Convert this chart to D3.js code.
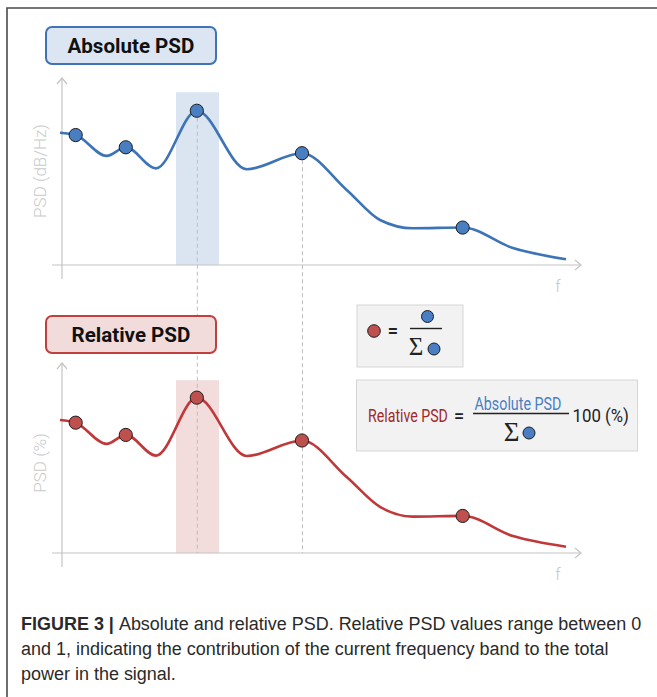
<!DOCTYPE html>
<html>
<head>
<meta charset="utf-8">
<script src="https://cdn.jsdelivr.net/npm/d3@7"></script>
<style>
  html, body { margin: 0; padding: 0; background: #fff; }
  svg { display: block; }
</style>
</head>
<body>
<script>
// frequency knots of the drawn spectrum (arbitrary Hz)
var freq = [0, 1.55, 4.61, 6.5, 9.49, 13.52, 18.45, 23.91, 28.33, 31.62, 34.88, 39.79, 44.76, 50];
// absolute PSD (dB/Hz, arbitrary units)
var absPSD = [7.35, 7.22, 6.06, 6.54, 5.37, 8.57, 5.32, 6.21, 4.17, 2.5, 2.04, 2.08, 0.94, 0.32];
// relative PSD (%, arbitrary units)
var relPSD = [7.39, 7.24, 6.06, 6.56, 5.41, 8.63, 5.39, 6.25, 4.22, 2.56, 2.02, 2.06, 0.94, 0.35];
// which knots get a marker, and which markers get a dashed guide
var markerIdx = [1, 3, 5, 7, 11];
var guideIdx = [5, 7];
// highlighted band
var bandF = [11.46, 15.71];
var bandTop = 9.6;

var captionLines = [
  ["FIGURE 3 | ", "Absolute and relative PSD. Relative PSD values range between 0"],
  ["", "and 1, indicating the contribution of the current frequency band to the total"],
  ["", "power in the signal."]
];

var W = 657, H = 697;
var svg = d3.select("body").append("svg").attr("width", W).attr("height", H);
svg.append("rect").attr("width", W).attr("height", H).attr("fill", "#fff");

// frame
svg.append("path").attr("d", "M7,697 V8 H657").attr("fill", "none")
  .attr("stroke", "#4a4a4a").attr("stroke-width", 1.6);

var x = d3.scaleLinear().domain([0, 50]).range([60, 566]);

var panels = [
  { values: absPSD, base: 265, title: "Absolute PSD", titleW: 127, ylab: "PSD (dB/Hz)",
    line: "#3d73b7", dot: "#4a7ec2", band: "#dbe5f1", boxFill: "#dce6f2", boxStroke: "#3f73b6",
    boxY: 27, axisTop: 78, axisBot: 279, ylabY: 171 },
  { values: relPSD, base: 553, title: "Relative PSD", titleW: 119, ylab: "PSD (%)",
    line: "#c0393a", dot: "#c0504d", band: "#f2dcdc", boxFill: "#f2dcdb", boxStroke: "#c0403e",
    boxY: 316, axisTop: 363, axisBot: 567, ylabY: 463 }
];

panels.forEach(function (p) {
  p.y = d3.scaleLinear().domain([0, 10]).range([p.base, p.base - 180]);
});

// squeeze a text horizontally so it spans w pixels (the reference uses a condensed face)
function squeeze(sel, x0, y0, w) {
  var n = sel.node().getComputedTextLength();
  sel.attr("transform", "translate(" + x0 + "," + y0 + ") scale(" + (w / n) + ",1)");
}

// bands
panels.forEach(function (p) {
  svg.append("rect")
    .attr("x", x(bandF[0])).attr("width", x(bandF[1]) - x(bandF[0]))
    .attr("y", p.y(bandTop)).attr("height", p.y(0) - p.y(bandTop))
    .attr("fill", p.band);
});

// dashed guides from the top markers down to the lower x axis
svg.append("g").selectAll("line").data(guideIdx).enter().append("line")
  .attr("x1", function (i) { return x(freq[i]) + 0.5; })
  .attr("x2", function (i) { return x(freq[i]) + 0.5; })
  .attr("y1", function (i) { return panels[0].y(absPSD[i]); })
  .attr("y2", panels[1].base)
  .attr("stroke", "#bdbdbd").attr("stroke-width", 1).attr("stroke-dasharray", "4,3");

// axes
var axisCol = "#c4c4c4";
panels.forEach(function (p) {
  var g = svg.append("g").attr("fill", "none").attr("stroke", axisCol).attr("stroke-width", 1.2);
  g.append("line").attr("x1", 52).attr("x2", 581).attr("y1", p.base).attr("y2", p.base);
  g.append("path").attr("d", "M575," + (p.base - 5) + " L581," + p.base + " L575," + (p.base + 5));
  g.append("line").attr("x1", 62).attr("x2", 62).attr("y1", p.axisTop).attr("y2", p.axisBot);
  g.append("path").attr("d", "M57," + (p.axisTop + 6) + " L62," + p.axisTop + " L67," + (p.axisTop + 6));

  svg.append("text").attr("x", 558).attr("y", p.base + 27)
    .attr("text-anchor", "middle").attr("fill", "#c4c4c4")
    .style("font-family", "Roboto, sans-serif").style("font-weight", 300).style("font-size", "16px")
    .text("f");

  svg.append("text")
    .attr("transform", "translate(46," + p.ylabY + ") rotate(-90)")
    .attr("text-anchor", "middle").attr("fill", "#cacaca")
    .style("font-family", "Roboto, sans-serif").style("font-weight", 300).style("font-size", "17px")
    .text(p.ylab);
});

// curves and markers
panels.forEach(function (p) {
  var line = d3.line()
    .x(function (d, i) { return x(freq[i]); })
    .y(function (d) { return p.y(d); })
    .curve(d3.curveMonotoneX);
  svg.append("path").datum(p.values).attr("d", line)
    .attr("fill", "none").attr("stroke", p.line).attr("stroke-width", 2.6);

  svg.append("g").selectAll("circle").data(markerIdx).enter().append("circle")
    .attr("cx", function (i) { return x(freq[i]); })
    .attr("cy", function (i) { return p.y(p.values[i]); })
    .attr("r", 6.6)
    .attr("fill", p.dot).attr("stroke", "#1e1e1e").attr("stroke-width", 1);
});

// title boxes
panels.forEach(function (p) {
  svg.append("rect").attr("x", 46).attr("y", p.boxY).attr("width", 170).attr("height", 37)
    .attr("rx", 6).attr("fill", p.boxFill).attr("stroke", p.boxStroke).attr("stroke-width", 2);
  var t = svg.append("text").attr("fill", "#111")
    .style("font-family", "Roboto, sans-serif").style("font-weight", 700).style("font-size", "21px")
    .text(p.title);
  var n = t.node().getComputedTextLength();
  t.attr("x", 131 - p.titleW / 2).attr("y", p.boxY + 26.3)
    .style("font-size", (21 * p.titleW / n) + "px");
});

// formula box 1
var f1 = svg.append("g");
f1.append("rect").attr("x", 357).attr("y", 305).attr("width", 106).attr("height", 62)
  .attr("fill", "#f2f2f2").attr("stroke", "#d6d6d6").attr("stroke-width", 1);
f1.append("circle").attr("cx", 374).attr("cy", 331).attr("r", 6.3)
  .attr("fill", "#c0504d").attr("stroke", "#1e1e1e").attr("stroke-width", 1);
f1.append("text").attr("x", 393).attr("y", 337).attr("text-anchor", "middle").attr("fill", "#222")
  .style("font-family", "Roboto, sans-serif").style("font-weight", 700).style("font-size", "18px").text("=");
f1.append("circle").attr("cx", 427.5).attr("cy", 316.5).attr("r", 6)
  .attr("fill", "#4a7ec2").attr("stroke", "#1e1e1e").attr("stroke-width", 1);
f1.append("line").attr("x1", 410).attr("x2", 442).attr("y1", 328.5).attr("y2", 328.5)
  .attr("stroke", "#222").attr("stroke-width", 1.4);
f1.append("text").attr("x", 416).attr("y", 355).attr("text-anchor", "middle").attr("fill", "#222")
  .style("font-family", "'Liberation Serif', 'Times New Roman', serif").style("font-size", "25px").text("\u03A3");
f1.append("circle").attr("cx", 434).attr("cy", 349).attr("r", 6)
  .attr("fill", "#4a7ec2").attr("stroke", "#1e1e1e").attr("stroke-width", 1);

// formula box 2
var f2 = svg.append("g").style("font-family", "Roboto, sans-serif");
f2.append("rect").attr("x", 356.5).attr("y", 380).attr("width", 281).attr("height", 71)
  .attr("fill", "#f2f2f2").attr("stroke", "#d6d6d6").attr("stroke-width", 1);
var tRel = f2.append("text").attr("fill", "#9e2a2b").style("font-size", "18px").text("Relative PSD");
squeeze(tRel, 368, 421.5, 80);
f2.append("text").attr("x", 459).attr("y", 421.5).attr("text-anchor", "middle").attr("fill", "#222")
  .style("font-size", "18px").style("font-weight", 500).text("=");
var tAbs = f2.append("text").attr("fill", "#4a7ec2").style("font-size", "18px").text("Absolute PSD");
squeeze(tAbs, 474.5, 409.5, 87);
f2.append("line").attr("x1", 473).attr("x2", 569).attr("y1", 413.5).attr("y2", 413.5)
  .attr("stroke", "#222").attr("stroke-width", 1.4);
var tPct = f2.append("text").attr("fill", "#222").style("font-size", "18px").text("100 (%)");
squeeze(tPct, 572.5, 421.5, 56.5);
f2.append("text").attr("x", 511.5).attr("y", 441).attr("text-anchor", "middle").attr("fill", "#222")
  .style("font-family", "'Liberation Serif', 'Times New Roman', serif").style("font-size", "27px").text("\u03A3");
f2.append("circle").attr("cx", 529).attr("cy", 433).attr("r", 6)
  .attr("fill", "#4a7ec2").attr("stroke", "#1e1e1e").attr("stroke-width", 1);

// caption
var cap = svg.append("g").style("font-family", "'Liberation Sans', Arial, sans-serif").attr("fill", "#2a2a2a");
var capText = cap.selectAll("text").data(captionLines).enter().append("text")
  .attr("x", 21).attr("y", function (d, i) { return 630 + i * 25; })
  .style("font-size", "16px");
capText.append("tspan").style("font-weight", 700).text(function (d) { return d[0]; });
capText.append("tspan").text(function (d) { return d[1]; });

// fit the first caption line to its width in the reference
var w0 = capText.node().getComputedTextLength();
var fs = 16 * 621 / w0;
capText.style("font-size", fs + "px");
</script>
</body>
</html>
